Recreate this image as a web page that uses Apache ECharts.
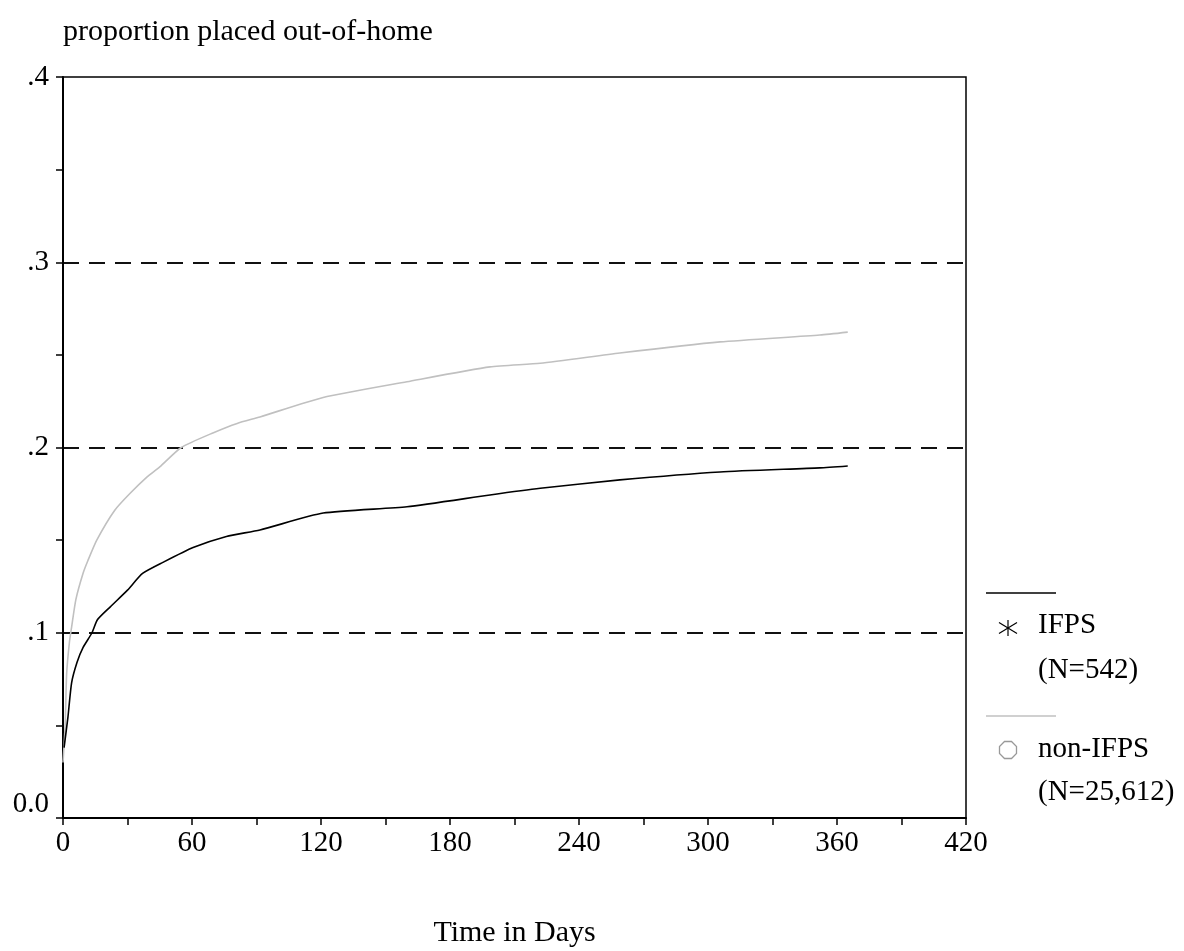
<!DOCTYPE html>
<html>
<head>
<meta charset="utf-8">
<script src="https://cdn.jsdelivr.net/npm/echarts@6/dist/echarts.min.js"></script>
<style>
html,body{margin:0;padding:0;background:#fff;}
#chart{width:1184px;height:951px;}
</style>
</head>
<body>
<div id="chart"></div>
<script>
// ---- data ----
var titleText = 'proportion placed out-of-home';
var xAxisTitle = 'Time in Days';
var seriesNames = ['IFPS', 'non-IFPS'];
var seriesCounts = ['(N=542)', '(N=25,612)'];
var ifpsDays  = [0.5, 2.3, 4, 6.5, 9.3, 13.5, 16, 22, 30, 37, 46.5, 60.5, 76, 91.6, 121, 160, 198.6, 222, 259, 305.6, 352, 365];
var ifpsProp  = [0.038, 0.0545, 0.073, 0.084, 0.092, 0.100, 0.107, 0.114, 0.123, 0.132, 0.138, 0.146, 0.152, 0.1555, 0.1646, 0.168, 0.1744, 0.178, 0.1825, 0.1868, 0.189, 0.190];
var nonDays   = [0, 1, 1.7, 3, 4, 6, 9.3, 11.6, 15.7, 24, 31, 39, 45, 55, 70, 81, 91.6, 121, 160, 198.6, 222, 259, 305.6, 352, 365];
var nonProp   = [0.03, 0.05, 0.078, 0.095, 0.103, 0.118, 0.132, 0.139, 0.150, 0.166, 0.175, 0.184, 0.1895, 0.200, 0.208, 0.213, 0.2165, 0.227, 0.2355, 0.2435, 0.2455, 0.251, 0.257, 0.2607, 0.2623];

function pairs(xs, ys){ return xs.map(function(x,i){ return [x, ys[i]]; }); }

var FONT = 'Liberation Serif';
var FS = 29;
var chart = echarts.init(document.getElementById('chart'), null, {renderer:'canvas'});
var txt = function(t, l, tp){ return {type: 'text', left: l, top: tp, style: {text: t, font: FS + 'px "' + FONT + '"', fill: '#000'}}; };
var option = {
  backgroundColor: '#fff',
  animation: false,
  title: {
    text: titleText, left: 58, top: 12,
    textStyle: {fontFamily: FONT, fontSize: 30, fontWeight: 'normal', color: '#000'}
  },
  grid: {left: 63, right: 218, top: 77, bottom: 133, containLabel: false, outerBoundsMode: 'none',
    show: true, borderColor: '#000', borderWidth: 1.5, backgroundColor: 'transparent'},
  xAxis: {
    type: 'value', min: 0, max: 420, interval: 60,
    name: xAxisTitle, nameLocation: 'middle', nameGap: 100,
    nameTextStyle: {fontFamily: FONT, fontSize: 30, color: '#000'},
    axisLine: {show: true, lineStyle: {color: '#000', width: 2}},
    axisTick: {show: true, inside: false, length: 7, lineStyle: {color: '#000', width: 1.5}},
    minorTick: {show: true, splitNumber: 2, length: 7, lineStyle: {color: '#000', width: 1.5}},
    axisLabel: {fontFamily: FONT, fontSize: FS, color: '#000', margin: 11},
    splitLine: {show: false}
  },
  yAxis: {
    type: 'value', min: 0, max: 0.4, interval: 0.1,
    axisLine: {show: true, lineStyle: {color: '#000', width: 2}},
    axisTick: {show: true, inside: false, length: 7, lineStyle: {color: '#000', width: 1.5}},
    minorTick: {show: true, splitNumber: 2, length: 7, lineStyle: {color: '#000', width: 1.5}},
    axisLabel: {fontFamily: FONT, fontSize: FS, color: '#000', margin: 14,
      formatter: function(v){ return v === 0 ? '{z|0.0}' : '{n|.' + Math.round(v*10) + '}'; },
      rich: {
        z: {fontFamily: FONT, fontSize: FS, color: '#000', padding: [0, 0, 28, 0]},
        n: {fontFamily: FONT, fontSize: FS, color: '#000', padding: [0, 0, 0, 0]}
      }},
    splitLine: {show: true, showMinLine: false, showMaxLine: false,
      lineStyle: {color: '#111', width: 1.8, type: [16, 10]}}
  },
  series: [
    {name: seriesNames[1], type: 'line', data: pairs(nonDays, nonProp), showSymbol: false,
      smooth: 0.2,
      lineStyle: {color: '#c0c0c0', width: 1.6}, itemStyle: {color: '#c0c0c0'}, z: 3},
    {name: seriesNames[0], type: 'line', data: pairs(ifpsDays, ifpsProp), showSymbol: false,
      smooth: 0.2,
      lineStyle: {color: '#000', width: 1.6}, itemStyle: {color: '#000'}, z: 4}
  ],
  graphic: [
    {type: 'line', shape: {x1: 986, y1: 593, x2: 1056, y2: 593}, style: {stroke: '#000', lineWidth: 1.5}},
    {type: 'line', shape: {x1: 1008, y1: 620, x2: 1008, y2: 636}, style: {stroke: '#000', lineWidth: 1.2}},
    {type: 'line', shape: {x1: 999, y1: 622.5, x2: 1017, y2: 633.5}, style: {stroke: '#000', lineWidth: 1.2}},
    {type: 'line', shape: {x1: 999, y1: 633.5, x2: 1017, y2: 622.5}, style: {stroke: '#000', lineWidth: 1.2}},
    txt(seriesNames[0], 1038, 611),
    txt(seriesCounts[0], 1038, 656),
    {type: 'line', shape: {x1: 986, y1: 716, x2: 1056, y2: 716}, style: {stroke: '#c0c0c0', lineWidth: 1.5}},
    {type: 'polygon', shape: {points: [[1004.5,741.5],[1011.5,741.5],[1016.5,746.5],[1016.5,753.5],[1011.5,758.5],[1004.5,758.5],[999.5,753.5],[999.5,746.5]]}, style: {stroke: '#999', lineWidth: 1.3, fill: '#fff'}},
    txt(seriesNames[1], 1038, 735),
    txt(seriesCounts[1], 1038, 778)
  ]
};
chart.setOption(option);
</script>
</body>
</html>
